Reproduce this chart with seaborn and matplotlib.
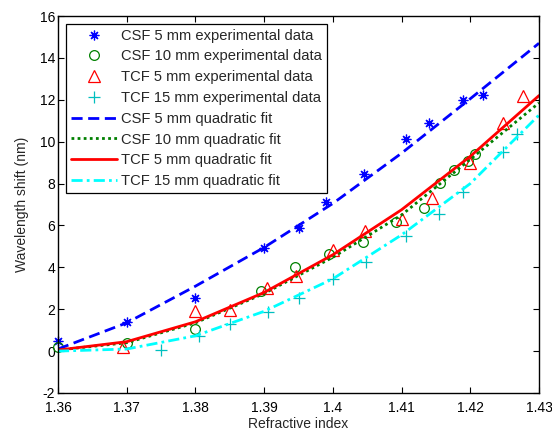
import matplotlib
matplotlib.use("Agg")
import matplotlib.pyplot as plt
import seaborn as sns

# experimental data (refractive index, wavelength shift in nm)
csf5_x = [1.36, 1.37, 1.38, 1.39, 1.395, 1.399, 1.4046, 1.4106, 1.414, 1.4189, 1.4219]
csf5_y = [0.5, 1.4, 2.55, 4.9, 5.9, 7.13, 8.45, 10.13, 10.9, 12.0, 12.23]

csf10_x = [1.36, 1.37, 1.38, 1.3895, 1.3945, 1.3995, 1.4044, 1.4092, 1.4132, 1.4156,
           1.4177, 1.4196, 1.4207]
csf10_y = [0.21, 0.4, 1.04, 2.87, 4.03, 4.63, 5.22, 6.18, 6.85, 8.04, 8.65, 9.09, 9.41]

tcf5_x = [1.3695, 1.38, 1.385, 1.3904, 1.3947, 1.4, 1.4047, 1.41, 1.4145, 1.42,
          1.4247, 1.4276]
tcf5_y = [0.18, 1.91, 1.96, 3.0, 3.58, 4.83, 5.75, 6.3, 7.29, 8.97, 10.88, 12.18]

tcf15_x = [1.375, 1.3805, 1.385, 1.3906, 1.3951, 1.4, 1.4048, 1.4107, 1.4155, 1.4189,
           1.4248, 1.4268]
tcf15_y = [0.05, 0.72, 1.29, 1.88, 2.55, 3.44, 4.27, 5.49, 6.54, 7.61, 9.52, 10.35]

# quadratic fit curves
fit_x = [1.36, 1.37, 1.38, 1.39, 1.40, 1.41, 1.42, 1.43]
fit_csf5 = [0.1, 1.35, 3.1, 4.95, 7.05, 9.45, 12.05, 14.7]
fit_csf10 = [0.05, 0.4, 1.35, 2.75, 4.48, 6.5, 9.16, 11.85]
fit_tcf5 = [0.05, 0.45, 1.4, 2.8, 4.6, 6.75, 9.3, 12.2]
fit_tcf15 = [0.0, 0.1, 0.73, 1.9, 3.45, 5.55, 8.0, 11.27]

x_ticks = [1.36, 1.37, 1.38, 1.39, 1.40, 1.41, 1.42, 1.43]
x_tick_labels = ['1.36', '1.37', '1.38', '1.39', '1.4', '1.41', '1.42', '1.43']
y_ticks = [-2, 0, 2, 4, 6, 8, 10, 12, 14, 16]

sns.set_style('white')
plt.rcParams['font.family'] = ['Liberation Sans', 'DejaVu Sans']
plt.rcParams['font.size'] = 10

fig = plt.figure(figsize=(5.52, 4.30), dpi=100)
ax = fig.add_axes([58 / 552, 1 - 393 / 430, 481 / 552, 377 / 430])

# experimental markers
marker_kws = dict(ax=ax, linestyle='', mew=0.9, clip_on=False)
sns.lineplot(x=csf5_x, y=csf5_y, marker=(8, 2, 0), ms=7, mec='#0000ff',
             color='#0000ff', label='CSF 5 mm experimental data', **marker_kws)
sns.lineplot(x=csf10_x, y=csf10_y, marker='o', ms=7, mfc='none', mec='#008000',
             color='#008000', label='CSF 10 mm experimental data', **marker_kws)
sns.lineplot(x=tcf5_x, y=tcf5_y, marker='^', ms=9, mfc='none', mec='#ff0000',
             color='#ff0000', label='TCF 5 mm experimental data', **marker_kws)
sns.lineplot(x=tcf15_x, y=tcf15_y, marker='+', ms=9, mec='#00bfbf',
             color='#00bfbf', label='TCF 15 mm experimental data', **marker_kws)

# fitted curves
sns.lineplot(x=fit_x, y=fit_csf5, ax=ax, color='#0000ff', lw=2,
             dashes=(4, 2), label='CSF 5 mm quadratic fit')
sns.lineplot(x=fit_x, y=fit_csf10, ax=ax, color='#008000', lw=2,
             dashes=(1, 1.2), label='CSF 10 mm quadratic fit')
sns.lineplot(x=fit_x, y=fit_tcf5, ax=ax, color='#ff0000', lw=2,
             label='TCF 5 mm quadratic fit')
sns.lineplot(x=fit_x, y=fit_tcf15, ax=ax, color='#00ffff', lw=2,
             dashes=(4, 1.5, 1, 1.5), label='TCF 15 mm quadratic fit')

ax.set_xlim(1.36, 1.43)
ax.set_ylim(-2, 16)
ax.set_xticks(x_ticks)
ax.set_xticklabels(x_tick_labels)
ax.set_yticks(y_ticks)
ax.set_yticklabels([str(v) for v in y_ticks])
ax.tick_params(direction='in', length=4, width=0.8, top=True, right=True,
               bottom=True, left=True, labelsize=10, pad=2, colors='black')
ax.tick_params(axis='x', pad=6)
for sp in ax.spines.values():
    sp.set_color('black')
    sp.set_linewidth(1)

ax.set_xlabel('Refractive index', fontsize=10, labelpad=1)
ax.set_ylabel('Wavelength shift (nm)', fontsize=10, labelpad=8)

leg = ax.legend(loc='upper left', bbox_to_anchor=(0.017, 0.98), fontsize=10.6,
                handlelength=3.1, handletextpad=0.3, labelspacing=0.46,
                borderpad=0.35, borderaxespad=0, fancybox=False,
                framealpha=1, edgecolor='black', numpoints=1)
leg.get_frame().set_linewidth(0.9)

fig.savefig('out.png', dpi=100)
